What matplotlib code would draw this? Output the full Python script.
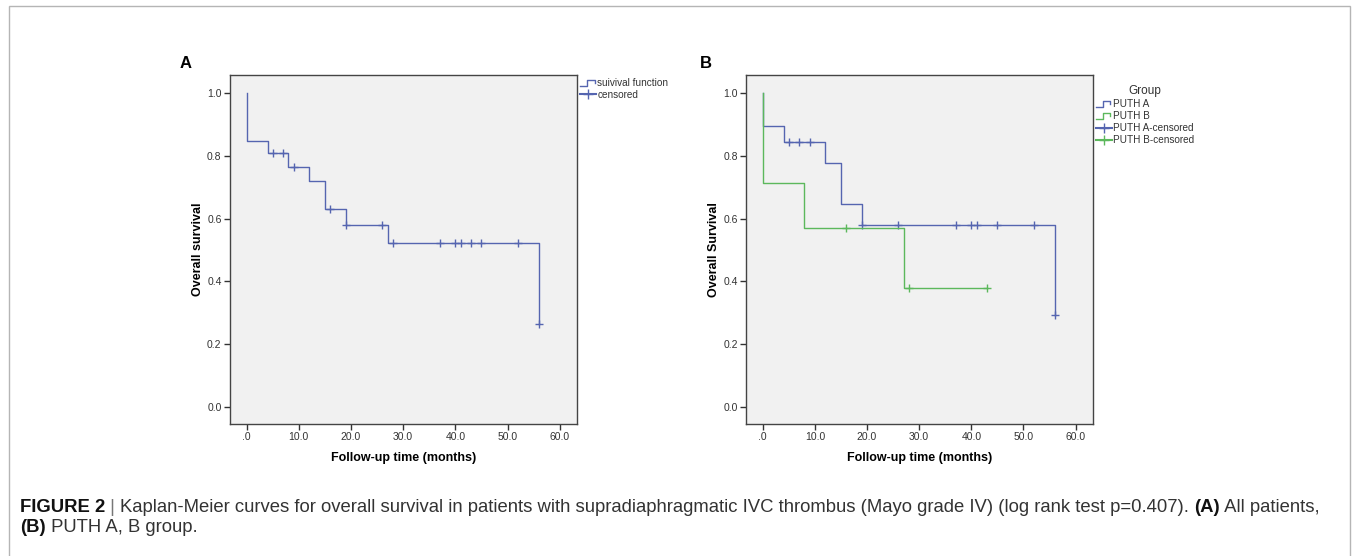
import numpy as np
import matplotlib
matplotlib.use('Agg')
import matplotlib.pyplot as plt
from matplotlib.lines import Line2D
from matplotlib.patches import Rectangle
from matplotlib.legend_handler import HandlerBase

# ---- data ----
# panel A, all patients
a_event_t = [0, 4, 8, 12, 15, 19, 27, 56]
a_event_s = [0.847, 0.808, 0.766, 0.721, 0.630, 0.581, 0.522, 0.263]
a_cens_t = [5, 7, 9, 16, 19, 26, 28, 37, 40, 41, 43, 45, 52, 56]

# panel B, PUTH A
pa_event_t = [0, 4, 12, 15, 19, 56]
pa_event_s = [0.895, 0.843, 0.776, 0.647, 0.581, 0.292]
pa_cens_t = [5, 7, 9, 19, 26, 37, 40, 41, 45, 52, 56]

# panel B, PUTH B
pb_event_t = [0, 8, 27]
pb_event_s = [0.713, 0.570, 0.378]
pb_cens_t = [16, 28, 43]

x_ticks = [0, 10, 20, 30, 40, 50, 60]
x_ticklabels = ['.0', '10.0', '20.0', '30.0', '40.0', '50.0', '60.0']
y_ticks = [0.0, 0.2, 0.4, 0.6, 0.8, 1.0]
y_ticklabels = ['0.0', '0.2', '0.4', '0.6', '0.8', '1.0']

BLUE = '#5565b0'
GREEN = '#5cb85c'
plt.rcParams['font.family'] = ['Liberation Sans', 'DejaVu Sans']


class StepHandler(HandlerBase):
    # legend icon shaped like a little survival step
    def create_artists(self, legend, orig_handle, xdescent, ydescent,
                       width, height, fontsize, trans):
        xs = np.array([0, 0.45, 0.45, 0.9, 0.9]) * width - xdescent
        ys = np.array([0.1, 0.1, 0.85, 0.85, 0.5]) * height - ydescent
        ln = Line2D(xs, ys, color=orig_handle.get_color(), lw=1.0)
        ln.set_transform(trans)
        return [ln]


def km(ax, ev_t, ev_s, cens_t, color):
    xs = [0] + list(ev_t)
    ys = [1.0] + list(ev_s)
    if max(cens_t) > xs[-1]:
        xs.append(max(cens_t))
        ys.append(ys[-1])
    ax.step(xs, ys, where='post', color=color, lw=1.0)
    ev = np.array(ev_t)
    cy = [ev_s[np.searchsorted(ev, t, side='right') - 1] for t in cens_t]
    ax.plot(cens_t, cy, ls='none', marker='+', ms=6, mew=1.0, color=color)


def style(ax, ylab):
    ax.set_facecolor('#f1f1f1')
    ax.set_xlim(-3.2, 63.3)
    ax.set_ylim(-0.055, 1.058)
    ax.set_xticks(x_ticks)
    ax.set_xticklabels(x_ticklabels)
    ax.set_yticks(y_ticks)
    ax.set_yticklabels(y_ticklabels)
    ax.tick_params(labelsize=7.5, length=4, width=1, color='#333333',
                   labelcolor='#333333', pad=2)
    for sp in ax.spines.values():
        sp.set_color('#444444')
        sp.set_linewidth(1.0)
    ax.set_xlabel('Follow-up time (months)', fontsize=9, fontweight='bold', labelpad=7)
    ax.set_ylabel(ylab, fontsize=9, fontweight='bold', labelpad=2)


fig = plt.figure(figsize=(13.55, 5.56), dpi=100)
ax1 = fig.add_axes([0.1697, 0.2374, 0.2561, 0.6277])
ax2 = fig.add_axes([0.5506, 0.2374, 0.2559, 0.6277])

km(ax1, a_event_t, a_event_s, a_cens_t, BLUE)
style(ax1, 'Overall survival')
h1 = [Line2D([], [], color=BLUE), Line2D([], [], color=BLUE, marker='+', ms=7)]
ax1.legend(h1, ['suivival function', 'censored'], loc='upper left',
           bbox_to_anchor=(0.995, 1.005), frameon=False, fontsize=7.2,
           handlelength=1.6, handletextpad=0.1, labelspacing=0.15,
           borderaxespad=0.1, labelcolor='#333333',
           handler_map={h1[0]: StepHandler()})

km(ax2, pa_event_t, pa_event_s, pa_cens_t, BLUE)
km(ax2, pb_event_t, pb_event_s, pb_cens_t, GREEN)
style(ax2, 'Overall Survival')
h2 = [Line2D([], [], color=BLUE), Line2D([], [], color=GREEN),
      Line2D([], [], color=BLUE, marker='+', ms=7),
      Line2D([], [], color=GREEN, marker='+', ms=7)]
leg = ax2.legend(h2, ['PUTH A', 'PUTH B', 'PUTH A-censored', 'PUTH B-censored'],
                 loc='upper left', bbox_to_anchor=(0.995, 0.985), frameon=False,
                 fontsize=7.2, title='Group', title_fontsize=8.5,
                 handlelength=1.6, handletextpad=0.1, labelspacing=0.2,
                 borderaxespad=0.1, labelcolor='#333333',
                 handler_map={h2[0]: StepHandler(), h2[1]: StepHandler()})
leg.get_title().set_color('#333333')

fig.text(180 / 1355, 1 - 63 / 556, 'A', fontsize=12, fontweight='bold', va='center')
fig.text(700 / 1355, 1 - 63 / 556, 'B', fontsize=12, fontweight='bold', va='center')

# outer frame
fig.patches.append(Rectangle((9 / 1355, -0.05), (1350 - 9) / 1355, 1.05 - 6 / 556,
                             transform=fig.transFigure, fill=False,
                             edgecolor='#b5b5b5', lw=1.0))

# caption with mixed weights
r = fig.canvas.get_renderer()


def line(pieces, x0, y):
    x = x0
    for txt, bold, col in pieces:
        t = fig.text(x, y, txt, fontsize=13.3, color=col,
                     fontweight='bold' if bold else 'normal', va='center')
        bb = t.get_window_extent(renderer=r)
        x += bb.width / fig.bbox.width


line([('FIGURE 2', True, '#111111'), (' | ', False, '#777777'),
      ('Kaplan-Meier curves for overall survival in patients with supradiaphragmatic '
       'IVC thrombus (Mayo grade IV) (log rank test p=0.407). ', False, '#333333'),
      ('(A)', True, '#111111'), (' All patients,', False, '#333333')],
     20 / 1355, 1 - 508 / 556)
line([('(B)', True, '#111111'), (' PUTH A, B group.', False, '#333333')],
     20 / 1355, 1 - 528 / 556)

fig.savefig('out.png', dpi=100)
